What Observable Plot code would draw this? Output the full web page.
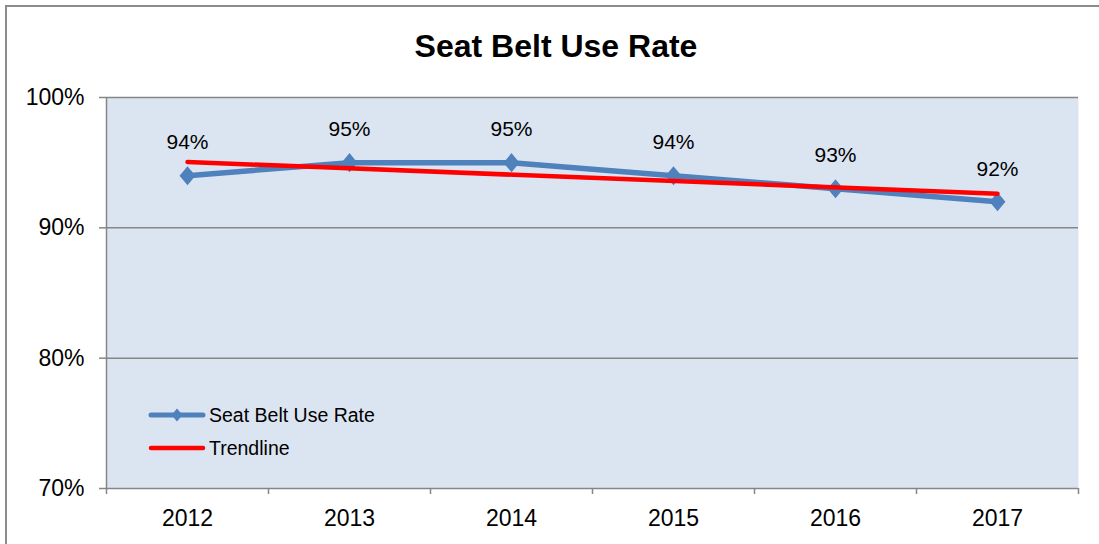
<!DOCTYPE html>
<html>
<head>
<meta charset="utf-8">
<script src="https://cdn.jsdelivr.net/npm/d3@7"></script>
<script src="https://cdn.jsdelivr.net/npm/@observablehq/plot@0.6"></script>
<style>
  html, body { margin: 0; padding: 0; background: #fff; }
  #wrap { position: relative; width: 1099px; height: 544px; overflow: hidden; font-family: "Liberation Sans", Arial, sans-serif; }
  #frame { position: absolute; left: 5px; top: 5px; width: 1100px; height: 600px; border: 2px solid #8c8c8c; box-sizing: border-box; }
  #chart { position: absolute; left: 0; top: 0; }
  #overlay { position: absolute; left: 0; top: 0; pointer-events: none; }
</style>
</head>
<body>
<div id="wrap">
  <div id="frame"></div>
  <div id="chart"></div>
  <svg id="overlay" width="1099" height="544"></svg>
</div>
<script>
const title = "Seat Belt Use Rate";
const years = [2012, 2013, 2014, 2015, 2016, 2017];
const rates = [94, 95, 95, 94, 93, 92];
const trendYears = [2012, 2017];
const trendValues = [95.05, 92.62];
const yTicks = [70, 80, 90, 100];
const seriesNames = ["Seat Belt Use Rate", "Trendline"];

const blue = "#4f81bd";
const red = "#ff0000";
const grid = "#868686";

const data = years.map((y, i) => ({year: y, rate: rates[i]}));
const trend = trendYears.map((y, i) => ({year: y, rate: trendValues[i]}));
const bounds = [years[0] - 0.5, ...years.map(y => y + 0.5)];

// Slightly tall diamond, like Excel's marker
const excelDiamond = {
  draw(context, size) {
    const s = Math.sqrt(size);
    const w = s * 0.5, h = s * 0.6;
    context.moveTo(0, -h);
    context.lineTo(w, 0);
    context.lineTo(0, h);
    context.lineTo(-w, 0);
    context.closePath();
  }
};

const plot = Plot.plot({
  width: 1099,
  height: 544,
  marginLeft: 106,
  marginRight: 21,
  marginTop: 97,
  marginBottom: 56,
  style: {fontFamily: "'Liberation Sans', Arial, sans-serif", fontSize: "23px", background: "transparent", color: "#000"},
  x: {type: "linear", domain: [bounds[0], bounds[bounds.length - 1]]},
  y: {type: "linear", domain: [70, 100]},
  marks: [
    Plot.frame({fill: "#dbe5f1", stroke: null}),
    Plot.ruleY(yTicks, {stroke: grid, strokeWidth: 1.5}),
    Plot.ruleX([bounds[0]], {stroke: grid, strokeWidth: 1.5}),
    Plot.axisX(bounds, {tickSize: 6, tickFormat: () => "", stroke: grid, strokeWidth: 1.5, label: null}),
    Plot.axisX(years, {tickSize: 0, tickPadding: 21, tickFormat: d => String(d), fontSize: 23, label: null}),
    Plot.axisY(yTicks, {tickSize: 7, tickPadding: 15, stroke: grid, strokeWidth: 1.5, tickFormat: d => d + "%", fontSize: 23, label: null}),
    Plot.line(data, {x: "year", y: "rate", stroke: blue, strokeWidth: 5.5}),
    Plot.dot(data, {x: "year", y: "rate", symbol: excelDiamond, r: 9, fill: blue, stroke: null}),
    Plot.line(trend, {x: "year", y: "rate", stroke: red, strokeWidth: 4.5}),
    Plot.text(data, {x: "year", y: "rate", text: d => d.rate + "%", dy: -33, fontSize: 21, fill: "#000"})
  ]
});
document.getElementById("chart").appendChild(plot);

// Title and legend
const ov = d3.select("#overlay");
ov.append("text")
  .attr("x", 556).attr("y", 57)
  .attr("text-anchor", "middle")
  .attr("font-family", "'Liberation Sans', Arial, sans-serif")
  .attr("font-weight", "bold")
  .attr("font-size", 32)
  .text(title);

const legendColors = [blue, red];
const legendY = [415, 448];
seriesNames.forEach((name, i) => {
  const g = ov.append("g");
  g.append("line")
    .attr("x1", 151).attr("x2", 203)
    .attr("y1", legendY[i]).attr("y2", legendY[i])
    .attr("stroke", legendColors[i]).attr("stroke-width", i === 0 ? 5 : 4.5)
    .attr("stroke-linecap", "round");
  if (i === 0) {
    g.append("path")
      .attr("d", d3.symbol(excelDiamond, 120)())
      .attr("transform", `translate(177,${legendY[i]})`)
      .attr("fill", blue);
  }
  g.append("text")
    .attr("x", 209).attr("y", legendY[i])
    .attr("dy", "0.35em")
    .attr("font-family", "'Liberation Sans', Arial, sans-serif")
    .attr("font-size", 19.5)
    .text(name);
});
</script>
</body>
</html>
